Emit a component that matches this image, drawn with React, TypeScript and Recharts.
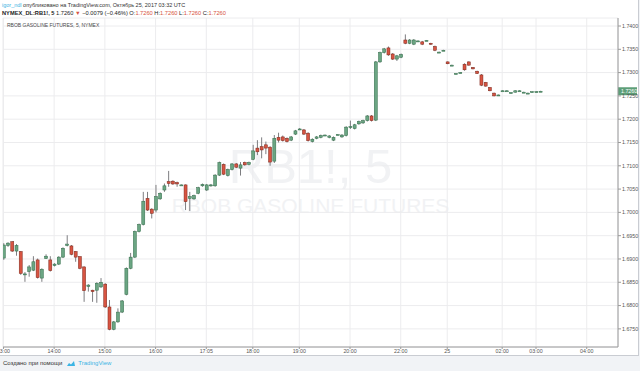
import React from 'react';
import { ComposedChart, Bar, XAxis, YAxis, CartesianGrid, ReferenceLine } from 'recharts';

// 5-minute RBOB candles (index = bar number, first bar 13:00 UTC)
const opens = [
  1.6902, 1.6929, 1.6937, 1.6917, 1.6916, 1.6866, 1.6873, 1.6876, 1.6898, 1.6859,
  1.6901, 1.6898, 1.6886, 1.6889, 1.6904, 1.6929, 1.6928, 1.6916, 1.6905, 1.6883,
  1.6841, 1.6833, 1.6833, 1.6840, 1.6846, 1.6797, 1.6749, 1.6765, 1.6786, 1.6824,
  1.6880, 1.6904, 1.6959, 1.6974, 1.7030, 1.7007, 1.7005, 1.7029, 1.7048, 1.7066,
  1.7067, 1.7064, 1.7059, 1.7059, 1.7030, 1.7029, 1.7041, 1.7057, 1.7048, 1.7057,
  1.7057, 1.7080, 1.7103, 1.7079, 1.7092, 1.7104, 1.7095, 1.7107, 1.7103, 1.7114,
  1.7138, 1.7141, 1.7145, 1.7140, 1.7110, 1.7161, 1.7162, 1.7159, 1.7155, 1.7168,
  1.7178, 1.7177, 1.7170, 1.7152, 1.7159, 1.7161, 1.7166, 1.7161, 1.7155, 1.7167,
  1.7162, 1.7165, 1.7183, 1.7180, 1.7190, 1.7192, 1.7197, 1.7207, 1.7198, 1.7323,
  1.7343, 1.7353, 1.7340, 1.7329, 1.7333, 1.7370, 1.7363, 1.7361, 1.7368, 1.7366,
  1.7369, 1.7363, 1.7356, 1.7344, 1.7348, 1.7323, 1.7316, 1.7298, 1.7300, 1.7318,
  1.7323, 1.7311, 1.7303, 1.7295, 1.7279, 1.7268, 1.7256, 1.7252, 1.7261, 1.7261,
  1.7257, 1.7258, 1.7261, 1.7258, 1.7256, 1.7259, 1.7259, 1.7260,
];
const highs = [
  1.6934, 1.6936, 1.6938, 1.6932, 1.6917, 1.6872, 1.6887, 1.6906, 1.6901, 1.6880,
  1.6910, 1.6906, 1.6891, 1.6906, 1.6925, 1.6951, 1.6930, 1.6917, 1.6906, 1.6884,
  1.6846, 1.6834, 1.6850, 1.6859, 1.6848, 1.6812, 1.6767, 1.6794, 1.6812, 1.6882,
  1.6913, 1.6961, 1.6976, 1.7044, 1.7044, 1.7009, 1.7059, 1.7043, 1.7062, 1.7089,
  1.7069, 1.7066, 1.7060, 1.7060, 1.7044, 1.7038, 1.7055, 1.7062, 1.7061, 1.7061,
  1.7082, 1.7109, 1.7105, 1.7094, 1.7106, 1.7106, 1.7108, 1.7109, 1.7109, 1.7145,
  1.7155, 1.7161, 1.7152, 1.7142, 1.7166, 1.7171, 1.7165, 1.7161, 1.7164, 1.7177,
  1.7181, 1.7179, 1.7172, 1.7159, 1.7164, 1.7167, 1.7167, 1.7166, 1.7163, 1.7168,
  1.7168, 1.7185, 1.7197, 1.7190, 1.7197, 1.7199, 1.7209, 1.7209, 1.7325, 1.7345,
  1.7353, 1.7356, 1.7342, 1.7338, 1.7341, 1.7382, 1.7372, 1.7372, 1.7369, 1.7368,
  1.7370, 1.7364, 1.7358, 1.7345, 1.7349, 1.7324, 1.7317, 1.7299, 1.7301, 1.7320,
  1.7324, 1.7312, 1.7304, 1.7297, 1.7280, 1.7269, 1.7257, 1.7253, 1.7262, 1.7262,
  1.7258, 1.7262, 1.7262, 1.7259, 1.7257, 1.7260, 1.7260, 1.7261,
];
const lows = [
  1.6898, 1.6926, 1.6915, 1.6907, 1.6866, 1.6851, 1.6862, 1.6874, 1.6858, 1.6851,
  1.6900, 1.6873, 1.6884, 1.6887, 1.6902, 1.6927, 1.6908, 1.6894, 1.6878, 1.6808,
  1.6830, 1.6808, 1.6806, 1.6838, 1.6795, 1.6747, 1.6747, 1.6763, 1.6784, 1.6822,
  1.6878, 1.6902, 1.6957, 1.6972, 1.7003, 1.6987, 1.7000, 1.7027, 1.7044, 1.7055,
  1.7059, 1.7055, 1.7058, 1.7005, 1.7003, 1.7027, 1.7039, 1.7055, 1.7046, 1.7055,
  1.7055, 1.7078, 1.7080, 1.7077, 1.7090, 1.7095, 1.7079, 1.7100, 1.7101, 1.7112,
  1.7123, 1.7116, 1.7125, 1.7100, 1.7106, 1.7150, 1.7152, 1.7150, 1.7153, 1.7166,
  1.7177, 1.7166, 1.7152, 1.7150, 1.7157, 1.7159, 1.7165, 1.7159, 1.7153, 1.7166,
  1.7160, 1.7163, 1.7179, 1.7178, 1.7188, 1.7190, 1.7195, 1.7195, 1.7196, 1.7321,
  1.7341, 1.7336, 1.7327, 1.7325, 1.7331, 1.7361, 1.7361, 1.7359, 1.7367, 1.7359,
  1.7368, 1.7360, 1.7346, 1.7343, 1.7347, 1.7318, 1.7315, 1.7297, 1.7299, 1.7304,
  1.7315, 1.7307, 1.7297, 1.7271, 1.7270, 1.7260, 1.7249, 1.7251, 1.7260, 1.7260,
  1.7256, 1.7257, 1.7260, 1.7257, 1.7255, 1.7258, 1.7258, 1.7259,
];
const closes = [
  1.6930, 1.6934, 1.6917, 1.6929, 1.6869, 1.6868, 1.6883, 1.6894, 1.6860, 1.6878,
  1.6906, 1.6875, 1.6889, 1.6904, 1.6923, 1.6932, 1.6910, 1.6904, 1.6880, 1.6832,
  1.6844, 1.6830, 1.6848, 1.6850, 1.6797, 1.6749, 1.6765, 1.6786, 1.6810, 1.6880,
  1.6904, 1.6959, 1.6974, 1.7024, 1.7005, 1.6998, 1.7034, 1.7041, 1.7057, 1.7062,
  1.7061, 1.7061, 1.7059, 1.7023, 1.7034, 1.7036, 1.7053, 1.7060, 1.7059, 1.7059,
  1.7080, 1.7107, 1.7082, 1.7092, 1.7104, 1.7097, 1.7102, 1.7102, 1.7107, 1.7132,
  1.7130, 1.7134, 1.7138, 1.7108, 1.7159, 1.7155, 1.7154, 1.7152, 1.7162, 1.7175,
  1.7179, 1.7168, 1.7154, 1.7157, 1.7162, 1.7165, 1.7166, 1.7164, 1.7161, 1.7167,
  1.7166, 1.7183, 1.7184, 1.7188, 1.7195, 1.7197, 1.7207, 1.7197, 1.7323, 1.7343,
  1.7351, 1.7338, 1.7329, 1.7336, 1.7339, 1.7363, 1.7370, 1.7370, 1.7368, 1.7361,
  1.7369, 1.7361, 1.7348, 1.7344, 1.7348, 1.7319, 1.7316, 1.7298, 1.7300, 1.7306,
  1.7316, 1.7308, 1.7298, 1.7273, 1.7271, 1.7261, 1.7250, 1.7252, 1.7261, 1.7261,
  1.7257, 1.7261, 1.7261, 1.7258, 1.7256, 1.7259, 1.7259, 1.7260,
];

const xTickIndex = [0, 12, 24, 36, 48, 59, 70, 82, 94, 105, 118, 126, 138];
const xTickLabels = ['13:00', '14:00', '15:00', '16:00', '17:05', '18:00', '19:00', '20:00', '22:00', '25', '02:00', '03:00', '04:00'];
const yTicks = [1.675, 1.68, 1.685, 1.69, 1.695, 1.7, 1.705, 1.71, 1.715, 1.72, 1.725, 1.73, 1.735, 1.74];
const lastPrice = 1.726;

const data = opens.map((o, i) => ({
  i,
  open: o,
  high: highs[i],
  low: lows[i],
  close: closes[i],
  range: [lows[i], highs[i]],
}));

const UP_FILL = '#6ba583';
const UP_STROKE = '#2f6b47';
const DOWN_FILL = '#d75442';
const DOWN_STROKE = '#7a2519';
const WICK = '#7d7d80';
const FONT = '"Liberation Sans", Arial, sans-serif';

function Candle(props: any) {
  const { x, y, width, height, payload } = props;
  if (!payload || x == null || y == null) return null;
  const { open, close, high, low } = payload;
  const cx = x + width / 2;
  const k = high - low !== 0 ? height / (high - low) : 0;
  const yO = y + (high - open) * k;
  const yC = y + (high - close) * k;
  const top = Math.min(yO, yC);
  const h = Math.max(Math.abs(yO - yC), 1);
  const up = close >= open;
  return (
    <g>
      <line x1={cx} x2={cx} y1={y} y2={y + height} stroke={WICK} strokeWidth={1} />
      <rect
        x={cx - 1.5}
        y={top}
        width={3}
        height={h}
        fill={up ? UP_FILL : DOWN_FILL}
        stroke={up ? UP_STROKE : DOWN_STROKE}
        strokeWidth={0.5}
      />
    </g>
  );
}

function PriceBadge(props: any) {
  const vb = props.viewBox;
  if (!vb) return null;
  const x = vb.x + vb.width;
  const y = vb.y;
  return (
    <g>
      <rect x={x} y={y - 4} width={19} height={8} fill="#5d9e78" />
      <text x={x + 3} y={y + 2} fontSize={5.3} fill="#ffffff" fontFamily={FONT}>
        {lastPrice.toFixed(4)}
      </text>
    </g>
  );
}

export default function App() {
  return (
    <div style={{ position: 'relative', width: 640, height: 371, background: '#f1f3f6', overflow: 'hidden', fontFamily: FONT }}>
      <style>{`body{margin:0}`}</style>
      <div style={{ position: 'absolute', left: 0, top: 0, width: 638, height: 355, background: '#ffffff', borderRight: '1px solid #c9ccd2', borderBottom: '1px solid #c9ccd2' }} />
      <svg width={638} height={355} style={{ position: 'absolute', left: 0, top: 0 }}>
        <text x={310.5} y={183} textAnchor="middle" fontSize={49} fill="#f1f2f4" fontFamily={FONT}>RB1!, 5</text>
        <text x={310.5} y={213} textAnchor="middle" fontSize={21} fill="#f1f2f4" fontFamily={FONT}>RBOB GASOLINE FUTURES</text>
      </svg>
      <div style={{ position: 'absolute', left: 0, top: 0 }}>
        <ComposedChart width={640} height={355} data={data} margin={{ top: 18, right: 0, bottom: 0, left: 3 }}>
          <CartesianGrid stroke="#ececee" />
          <XAxis
            dataKey="i"
            type="number"
            domain={[-0.1, 145.4]}
            ticks={xTickIndex}
            tickFormatter={(v: number) => xTickLabels[xTickIndex.indexOf(v)]}
            allowDataOverflow
            interval={0}
            height={8}
            tickSize={2}
            tickMargin={0}
            tick={{ fontSize: 5.3, fill: '#555', fontFamily: FONT }}
            axisLine={{ stroke: '#9a9a9a' }}
            tickLine={{ stroke: '#9a9a9a' }}
          />
          <XAxis xAxisId="top" orientation="top" type="number" domain={[0, 1]} height={0} tick={false} tickLine={false} axisLine={{ stroke: '#c4c4c4' }} />
          <YAxis
            orientation="right"
            type="number"
            domain={[1.67111, 1.74172]}
            ticks={yTicks}
            tickFormatter={(v: number) => v.toFixed(4)}
            allowDataOverflow
            interval={0}
            width={22}
            tickSize={3}
            tickMargin={1}
            tick={{ fontSize: 5.3, fill: '#555', fontFamily: FONT }}
            axisLine={{ stroke: '#9a9a9a' }}
            tickLine={{ stroke: '#9a9a9a' }}
          />
          <YAxis yAxisId="left" orientation="left" type="number" domain={[0, 1]} width={0} tick={false} tickLine={false} axisLine={{ stroke: '#c4c4c4' }} />
          <Bar dataKey="range" barSize={3} shape={Candle} isAnimationActive={false} />
          <ReferenceLine y={lastPrice} stroke="none" label={(p: any) => <PriceBadge {...p} />} />
        </ComposedChart>
      </div>
      <div style={{ position: 'absolute', left: 2, top: 1, fontSize: 5.5, lineHeight: '8px', color: '#333', whiteSpace: 'nowrap' }}>
        <span style={{ color: '#3bb4e4' }}>igor_ndl</span> опубликовано на TradingView.com, Октябрь 25, 2017 03:32 UTC
      </div>
      <div style={{ position: 'absolute', left: 2, top: 8.5, fontSize: 5.7, lineHeight: '8px', color: '#222', whiteSpace: 'nowrap', fontWeight: 'bold' }}>
        NYMEX_DL:RB1!, 5 <span style={{ fontWeight: 'normal' }}>1.7260 <span style={{ color: '#d75442' }}>▼</span> −0.0079 (−0.46%) O:<span style={{ color: '#d75442' }}>1.7260</span> H:<span style={{ color: '#d75442' }}>1.7260</span> L:<span style={{ color: '#d75442' }}>1.7260</span> C:<span style={{ color: '#d75442' }}>1.7260</span></span>
      </div>
      <div style={{ position: 'absolute', left: 7, top: 22, fontSize: 5, lineHeight: '7px', color: '#4a4a4a', whiteSpace: 'nowrap' }}>
        RBOB GASOLINE FUTURES, 5, NYMEX
      </div>
      <div style={{ position: 'absolute', left: 3, top: 359, fontSize: 6, lineHeight: '8px', color: '#333', whiteSpace: 'nowrap', display: 'flex', alignItems: 'center' }}>
        <span>Создано при помощи</span>
        <svg width={10} height={7} style={{ marginLeft: 4, marginRight: 2 }}>
          <path d="M1 6 L3 3 L5 4.5 L8 1 L9 6 Z" fill="#3bb4e4" />
        </svg>
        <span style={{ color: '#3bb4e4' }}>TradingView</span>
      </div>
    </div>
  );
}
